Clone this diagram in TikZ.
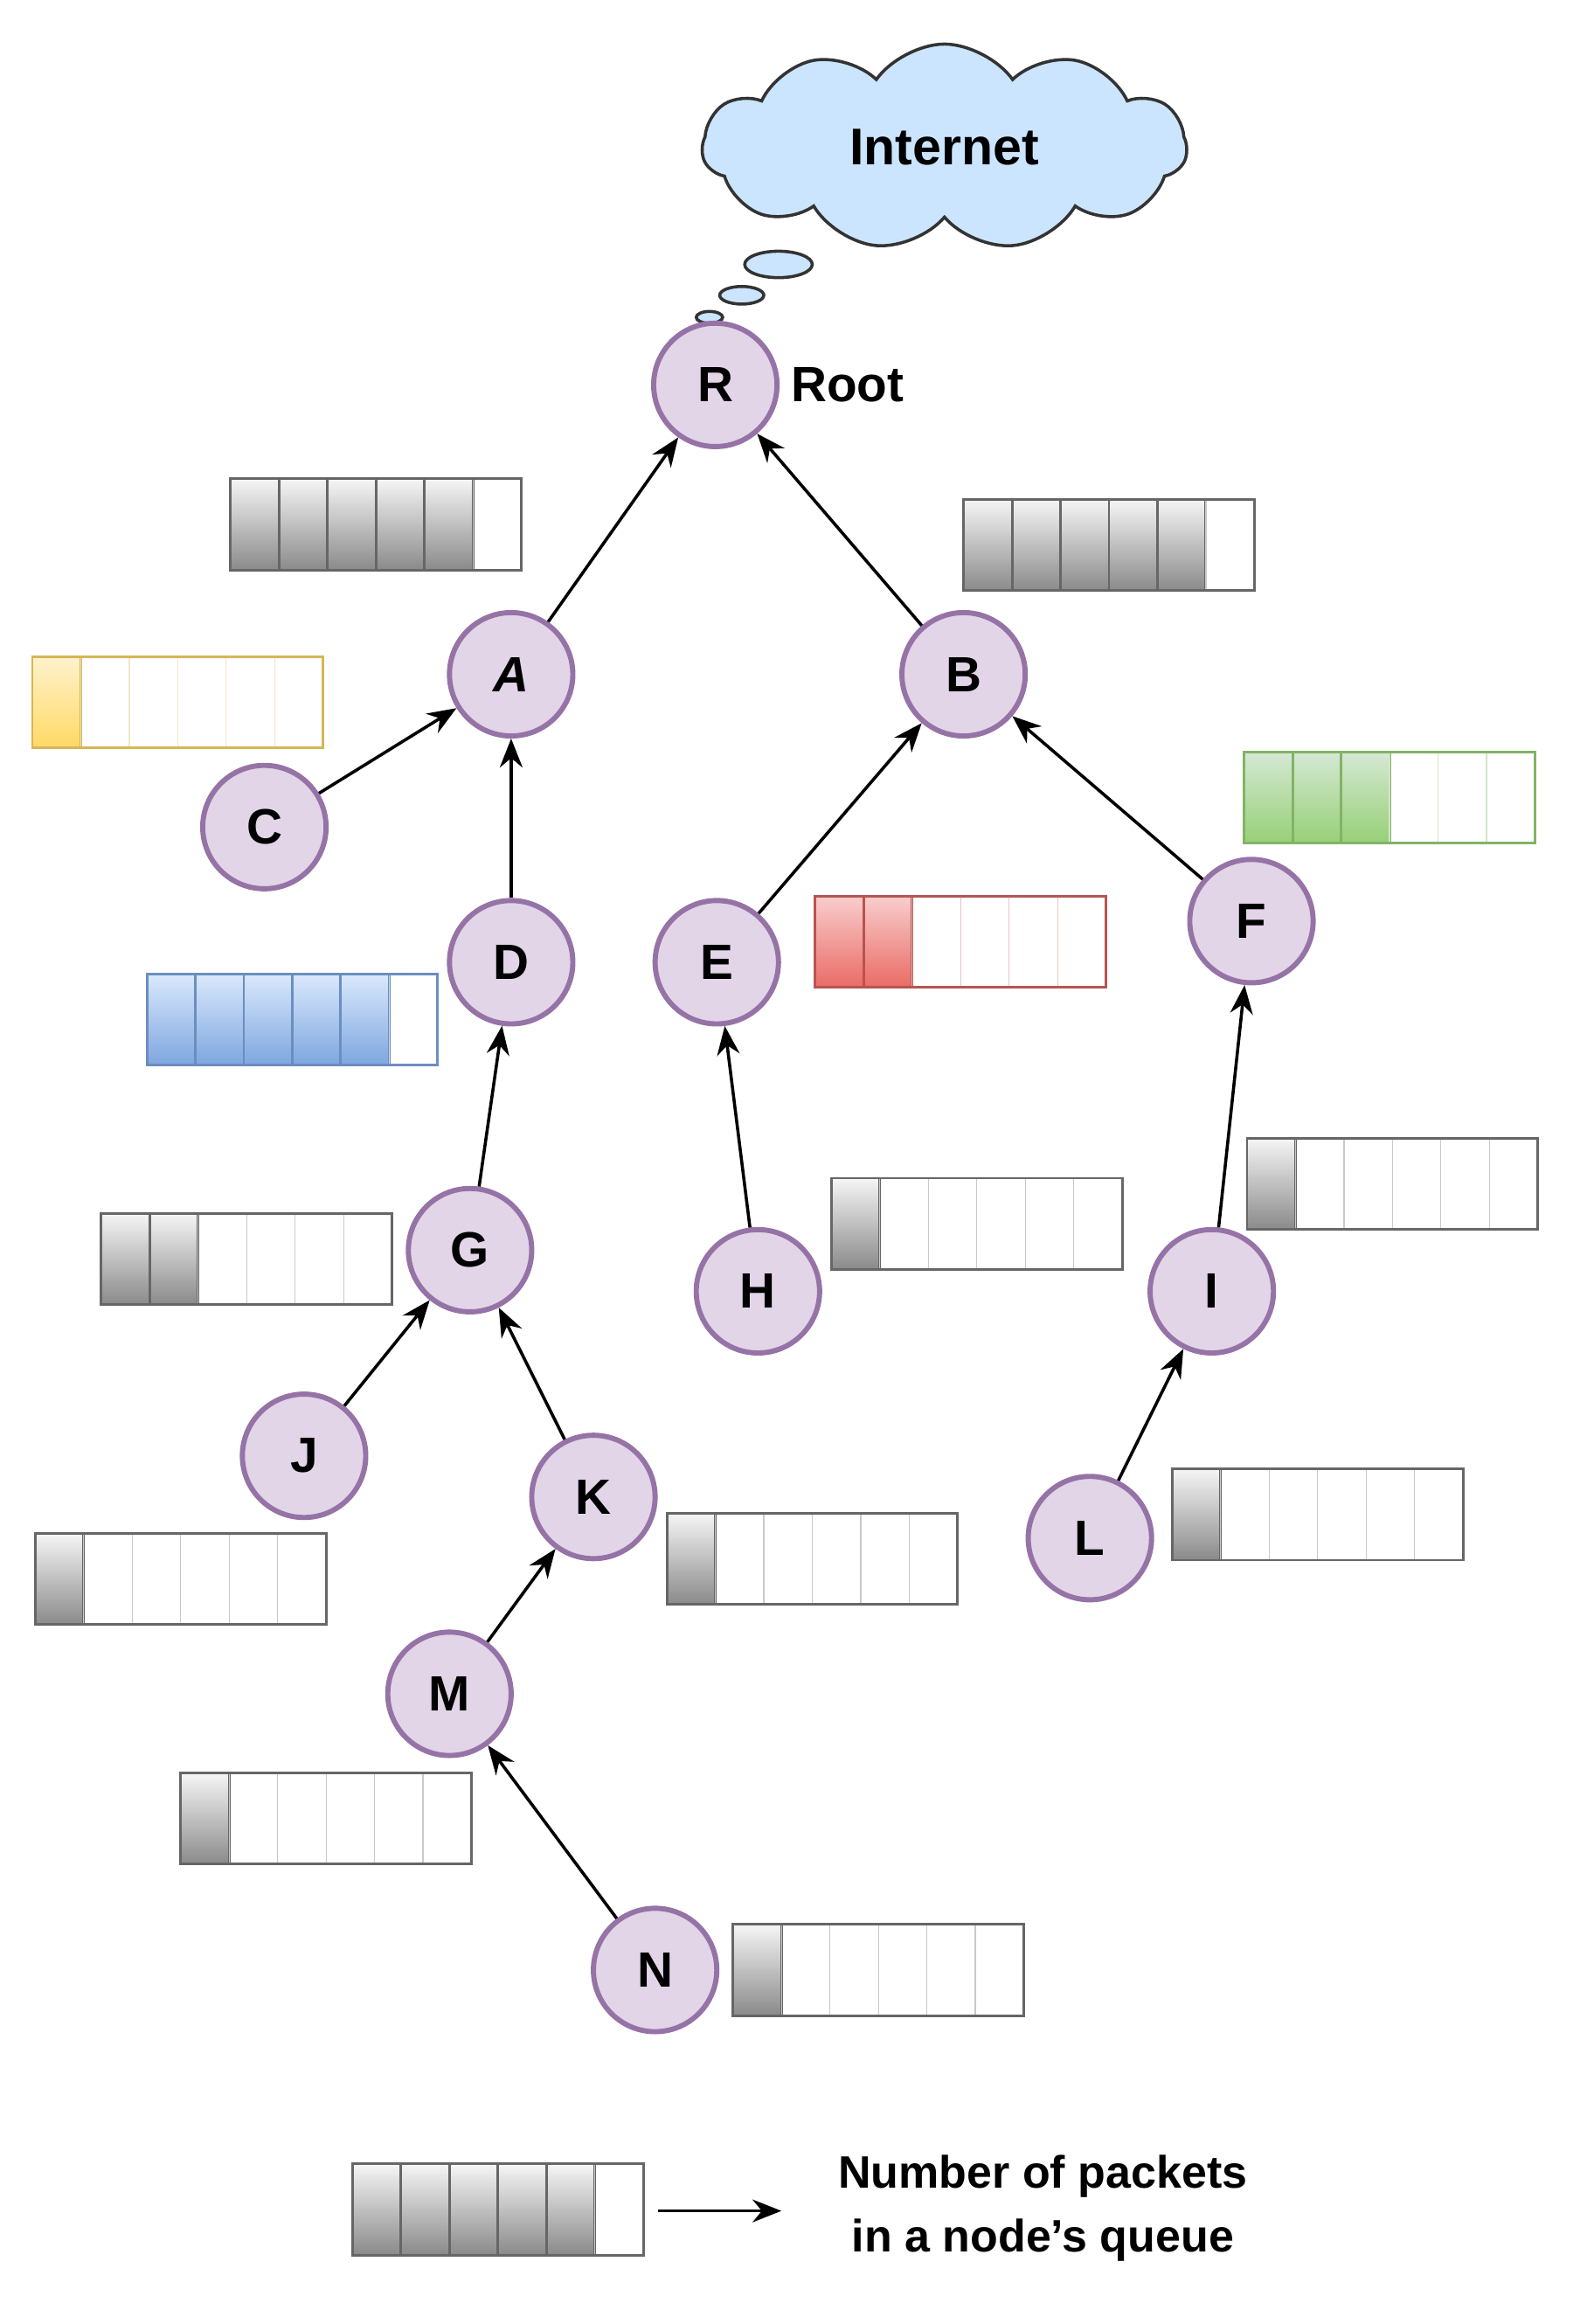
\documentclass[tikz,border=0pt]{standalone}
\usepackage{fontspec}
\setmainfont{Liberation Sans}
\usetikzlibrary{shapes.symbols,shapes.geometric,arrows.meta}
\definecolor{nfill}{HTML}{E1D5E7}
\definecolor{nline}{HTML}{9673A6}
\definecolor{cfill}{HTML}{CCE5FF}
\definecolor{gtop}{HTML}{F5F5F5}\definecolor{gbot}{HTML}{8A8A8A}\definecolor{gline}{HTML}{666666}
\definecolor{ytop}{HTML}{FFF2CC}\definecolor{ybot}{HTML}{FFD966}\definecolor{yline}{HTML}{D6B656}
\definecolor{btop}{HTML}{DAE8FC}\definecolor{bbot}{HTML}{7EA6E0}\definecolor{bline}{HTML}{6C8EBF}
\definecolor{rtop}{HTML}{F8CECC}\definecolor{rbot}{HTML}{EA6B66}\definecolor{rline}{HTML}{B85450}
\definecolor{vtop}{HTML}{D5E8D4}\definecolor{vbot}{HTML}{97D077}\definecolor{vline}{HTML}{82B366}
\newcommand\myqueue[4]{% x, y(top), filled count, color prefix
  \foreach \k in {0,...,5}{
    \ifnum\k<#3\relax
      \draw[#4line,line width=2.5pt,top color=#4top,bottom color=#4bot] ({#1+\k*33},#2) rectangle ++(33,62);
    \else
      \draw[#4line!35,line width=1pt] ({#1+\k*33},#2) rectangle ++(33,62);
    \fi}
  \draw[#4line,line width=2.5pt] (#1,#2) rectangle ++(198,62);
}
\begin{document}
\begin{tikzpicture}[x=0.05cm,y=-0.05cm,
  nd/.style={circle,draw=nline,fill=nfill,line width=5pt,minimum size=4.2cm,inner sep=0pt,
    font=\fontsize{48}{52}\selectfont\bfseries},
  ed/.style={-{Stealth[length=28pt,width=22pt]},line width=3pt},
  bub/.style={ellipse,draw=black!80,fill=cfill,line width=3pt,inner sep=0pt}]
\useasboundingbox (0,0) rectangle (1080,1582);
\node[cloud,cloud puffs=11,cloud puff arc=110,aspect=2.4,draw=black!80,fill=cfill,line width=3pt,
  minimum width=16.5cm,minimum height=7cm,font=\fontsize{50}{54}\selectfont\bfseries] (cl) at (643,100) {Internet};
\node[bub,minimum width=2.3cm,minimum height=0.9cm] (b1) at (530,180) {};
\node[bub,minimum width=1.5cm,minimum height=0.6cm] (b2) at (505,201) {};
\node[bub,minimum width=0.9cm,minimum height=0.4cm] (b3) at (483,216) {};
\node[nd] (R) at (487,262) {R};
\node[nd] (A) at (348,459) {\itshape A};
\node[nd] (B) at (656,459) {B};
\node[nd] (C) at (180,563) {C};
\node[nd] (D) at (348,655) {D};
\node[nd] (E) at (488,655) {E};
\node[nd] (F) at (852,627) {F};
\node[nd] (G) at (320,851) {G};
\node[nd] (H) at (516,879) {H};
\node[nd] (I) at (825,879) {I};
\node[nd] (J) at (207,991) {J};
\node[nd] (K) at (404,1019) {K};
\node[nd] (L) at (742,1047) {L};
\node[nd] (M) at (306,1153) {M};
\node[nd] (N) at (446,1341) {N};
\node[anchor=west,font=\fontsize{48}{52}\selectfont\bfseries] (root) at (536,262) {Root};
\foreach \a/\b in {A/R,B/R,C/A,D/A,E/B,F/B,G/D,H/E,I/F,J/G,K/G,L/I,M/K,N/M}
  \draw[ed] (\a) -- (\b);
\myqueue{157}{326}{5}{g}
\myqueue{22}{447}{1}{y}
\myqueue{656}{340}{5}{g}
\myqueue{847}{512}{3}{v}
\myqueue{555}{610}{2}{r}
\myqueue{100}{663}{5}{b}
\myqueue{69}{826}{2}{g}
\myqueue{566}{802}{1}{g}
\myqueue{849}{775}{1}{g}
\myqueue{24}{1044}{1}{g}
\myqueue{454}{1030}{1}{g}
\myqueue{798}{1000}{1}{g}
\myqueue{123}{1207}{1}{g}
\myqueue{499}{1310}{1}{g}
\myqueue{240}{1473}{5}{g}
\coordinate (lq) at (448,1505);
\coordinate (lt) at (532,1505);
\node[align=center,font=\fontsize{44}{62}\selectfont\bfseries] (leg) at (710,1503) {Number of packets\\in a node{\char"27}s queue};
\draw[ed] (lq) -- (lt);
\end{tikzpicture}
\end{document}
